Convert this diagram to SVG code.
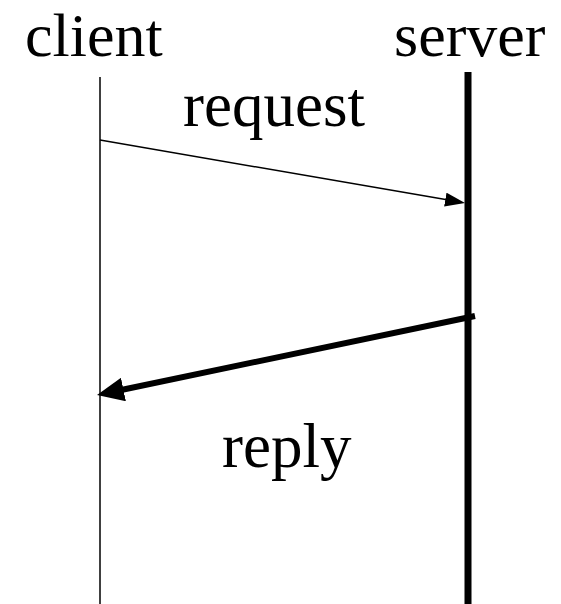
<svg xmlns="http://www.w3.org/2000/svg" width="561" height="604" viewBox="0 0 561 604">
  <style>
    .label { font-family: "Liberation Serif", "Times New Roman", serif; font-size: 63px; fill: #000; }
    .head { font-size: 62px; }
    .life { stroke: #000; fill: none; }
  </style>
  <defs>
    <!-- arrowheads: the line stops short of the tip so its butt end stays hidden -->
    <marker id="headThin" viewBox="0 0 20 14" refX="15" refY="7" markerWidth="20" markerHeight="14" markerUnits="userSpaceOnUse" orient="auto">
      <path d="M0,0 L20,7 L0,14 Z" fill="#000"/>
    </marker>
    <marker id="headBold" viewBox="0 0 27 24" refX="17" refY="12" markerWidth="27" markerHeight="24" markerUnits="userSpaceOnUse" orient="auto">
      <path d="M0,0 L27,12 L0,24 Z" fill="#000"/>
    </marker>
  </defs>
  <rect width="561" height="604" fill="#fff"/>

  <g id="client">
    <text class="label head" x="25" y="55.5">client</text>
    <line class="life" x1="100" y1="77" x2="100" y2="604" stroke-width="1.5"/>
  </g>

  <g id="server">
    <text class="label head" x="394" y="55.5">server</text>
    <line class="life" x1="468" y1="72" x2="468" y2="604" stroke-width="7"/>
  </g>

  <g id="connectors">
    <g id="request">
      <line x1="100" y1="140" x2="460.1" y2="202.1" stroke="#000" stroke-width="1.5" marker-end="url(#headThin)"/>
      <text class="label" x="183" y="126">request</text>
    </g>
    <g id="reply">
      <line x1="475" y1="316" x2="106.8" y2="393" stroke="#000" stroke-width="6" marker-end="url(#headBold)"/>
      <text class="label" x="222" y="467">reply</text>
    </g>
  </g>
</svg>
